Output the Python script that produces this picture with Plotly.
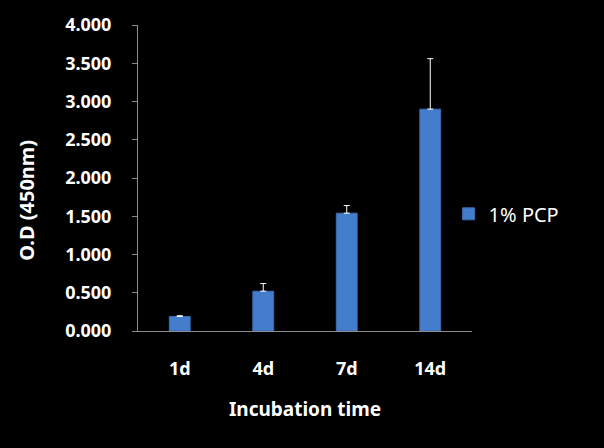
import plotly.graph_objects as go

categories = ["1d", "4d", "7d", "14d"]
values = [0.19, 0.52, 1.54, 2.90]
errors = [0.01, 0.10, 0.10, 0.66]
series_name = "1% PCP"
y_ticks = [0, 0.5, 1.0, 1.5, 2.0, 2.5, 3.0, 3.5, 4.0]
y_ticklabels = ["0.000", "0.500", "1.000", "1.500", "2.000", "2.500", "3.000", "3.500", "4.000"]

FONT = "Noto Sans"

fig = go.Figure()
fig.add_trace(go.Bar(
    x=categories, y=values, name=series_name,
    marker=dict(color="#437dcb", line=dict(width=1, color="#3a6cb0")),
    error_y=dict(type="data", array=errors, symmetric=False, arrayminus=[0]*4,
                 color="white", thickness=1, width=3),
    showlegend=True,
))

fig.update_layout(
    width=604, height=448,
    paper_bgcolor="black", plot_bgcolor="black",
    margin=dict(l=138, r=132, t=23, b=117),
    bargap=0.75,
    font=dict(family=FONT, color="white", size=18),
    showlegend=True,
    legend=dict(x=0.93, y=0.383, xanchor="left", yanchor="middle",
                font=dict(family=FONT, size=20, color="white"),
                bgcolor="rgba(0,0,0,0)"),
    xaxis=dict(
        showline=True, linecolor="#8c8c8c", linewidth=1,
        ticks="", showgrid=False, zeroline=False,
        tickfont=dict(family=FONT, size=18, color="white", weight="bold"),
        ticklabelstandoff=21,
        title=dict(text="Incubation time", standoff=24,
                   font=dict(family=FONT, size=19, color="white", weight="bold")),
    ),
    yaxis=dict(
        range=[0, 4], showline=True, linecolor="#8c8c8c", linewidth=1,
        ticks="outside", ticklen=5, tickcolor="#8c8c8c",
        tickvals=y_ticks, ticktext=y_ticklabels,
        showgrid=False, zeroline=False,
        tickfont=dict(family=FONT, size=18, color="white", weight="bold"),
        ticklabelstandoff=17,
    ),
    annotations=[dict(
        text="O.D (450nm)", textangle=-90, showarrow=False,
        xref="paper", yref="paper", x=-0.332, y=0.426,
        xanchor="center", yanchor="middle",
        font=dict(family=FONT, size=20, color="white", weight="bold"),
    )],
)

fig.write_html("out.html")
